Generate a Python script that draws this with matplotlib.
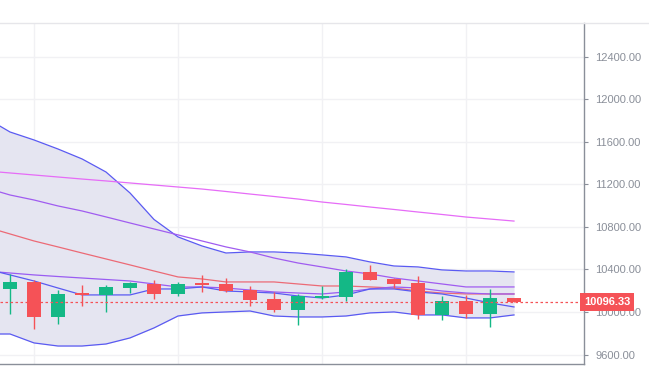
import numpy as np
import matplotlib
matplotlib.use("Agg")
import matplotlib.pyplot as plt
from matplotlib.patches import Rectangle

# candles (index 0..21)
opens  = [10217, 10283, 9954, 10170, 10161, 10226, 10264, 10170, 10264, 10264, 10208,
          10123, 10020, 10132, 10142, 10377, 10311, 10273, 9973, 10104, 9982, 10132]
highs  = [10358, 10302, 10208, 10255, 10255, 10283, 10302, 10283, 10349, 10320, 10245,
          10189, 10170, 10245, 10405, 10443, 10320, 10339, 10151, 10161, 10217, 10135]
lows   = [9982, 9841, 9888, 10057, 10001, 10179, 10123, 10151, 10189, 10189, 10057,
          10001, 9879, 10123, 10104, 10302, 10226, 9935, 9926, 9945, 9860, 10090]
closes = [10283, 9954, 10170, 10165, 10236, 10273, 10170, 10264, 10258, 10198, 10114,
          10020, 10151, 10151, 10377, 10302, 10264, 9973, 10104, 9982, 10132, 10096.33]

# indicator lines (index -1..21)
band_upper = [11824, 11692, 11617, 11532, 11439, 11316, 11119, 10870, 10706, 10621, 10555,
              10565, 10565, 10555, 10537, 10518, 10471, 10433, 10424, 10396, 10386, 10386, 10377]
band_lower = [9794, 9794, 9710, 9681, 9681, 9700, 9757, 9851, 9963, 9992, 10001, 10010,
              9963, 9954, 9954, 9963, 9992, 10001, 9973, 9973, 9945, 9945, 9973]
ma_long = [11326, 11307, 11288, 11269, 11250, 11232, 11213, 11194, 11175, 11156, 11133,
           11109, 11086, 11062, 11034, 11011, 10987, 10964, 10940, 10917, 10893, 10874, 10855]
ma_mid = [11166, 11100, 11053, 10997, 10950, 10894, 10837, 10781, 10725, 10668, 10612,
          10565, 10508, 10461, 10424, 10386, 10358, 10320, 10292, 10264, 10236, 10236, 10236]
ma_red = [10800, 10734, 10668, 10612, 10555, 10499, 10443, 10386, 10330, 10311, 10283,
          10283, 10283, 10264, 10245, 10245, 10236, 10226, 10198, 10179, 10170, 10170, 10170]
ma_short = [10386, 10367, 10349, 10334, 10320, 10306, 10292, 10264, 10236, 10236, 10226,
            10207, 10189, 10179, 10170, 10189, 10217, 10236, 10226, 10198, 10179, 10170, 10170]
band_mid = [10405, 10349, 10292, 10226, 10161, 10161, 10161, 10217, 10217, 10236, 10198,
            10189, 10179, 10151, 10132, 10161, 10217, 10217, 10189, 10170, 10132, 10086, 10048]

last_price = 10096.33
yticks = [9600, 10000, 10400, 10800, 11200, 11600, 12000, 12400]

UP, DOWN = "#14b886", "#f55257"
AXC = "#8a8f99"

W, H = 649, 368
fig = plt.figure(figsize=(W/100, H/100), dpi=100)
ax = fig.add_axes([0, 4/H, 584/W, (364-23)/H])
ax.set_xlim(-10/24, 574/24)
ax.set_ylim(9512, 12716)

xs = np.arange(-1, 22)
ax.fill_between(xs, band_lower, band_upper, color="#e5e5f1", lw=0, zorder=1)
ax.plot(xs, band_upper, color="#5a5af2", lw=0.9, zorder=2)
ax.plot(xs, band_lower, color="#5a5af2", lw=0.9, zorder=2)
ax.plot(xs, ma_long, color="#e66cf7", lw=0.9, zorder=2)
ax.plot(xs, ma_mid, color="#a05cf0", lw=0.9, zorder=2)
ax.plot(xs, ma_red, color="#ec6a76", lw=0.9, zorder=2)
ax.plot(xs, ma_short, color="#9a5cf2", lw=0.9, zorder=2)
ax.plot(xs, band_mid, color="#5a5af2", lw=0.9, zorder=2)

bw = 0.62
for i, (o, h, l, c) in enumerate(zip(opens, highs, lows, closes)):
    col = UP if c >= o else DOWN
    ax.plot([i, i], [l, h], color=col, lw=1.0, zorder=3, solid_capstyle="butt")
    lo, hi = min(o, c), max(o, c)
    if hi - lo < 12:
        hi = lo + 12
    ax.add_patch(Rectangle((i - bw/2, lo), bw, hi - lo, facecolor=col, edgecolor="none", zorder=4))

ax.axhline(last_price, color=DOWN, lw=0.9, ls=(0, (2, 2)), zorder=5)

# grid
for v in yticks:
    ax.axhline(v, color="#f1f1f4", lw=1, zorder=0)
for gx in [1, 7, 13, 19]:
    ax.axvline(gx, color="#f1f1f4", lw=1, zorder=0)

ax.yaxis.tick_right()
ax.set_yticks(yticks)
ax.set_yticklabels([f"{v:.2f}" for v in yticks])
ax.tick_params(axis="y", colors=AXC, labelcolor=AXC, length=3, width=0.8, pad=5,
               labelsize=8, labelfontfamily="Liberation Sans")
ax.set_xticks([])
for s in ["top", "left"]:
    ax.spines[s].set_visible(False)
ax.spines["right"].set_color(AXC)
ax.spines["bottom"].set_color(AXC)
ax.spines["right"].set_linewidth(1)
ax.spines["bottom"].set_linewidth(1)

# top border line
fig.add_artist(plt.Line2D([0, 1], [1 - 23/H, 1 - 23/H], color="#e6e6ea", lw=1))

# last price label
ax.text(1.0, last_price, "10096.33", transform=ax.get_yaxis_transform(),
        ha="left", va="center", color="white", fontsize=8, fontweight="bold",
        family="Liberation Sans", zorder=6, clip_on=False,
        bbox=dict(boxstyle="square,pad=0.35", facecolor=DOWN, edgecolor="none"))

fig.savefig("out.png", dpi=100)
